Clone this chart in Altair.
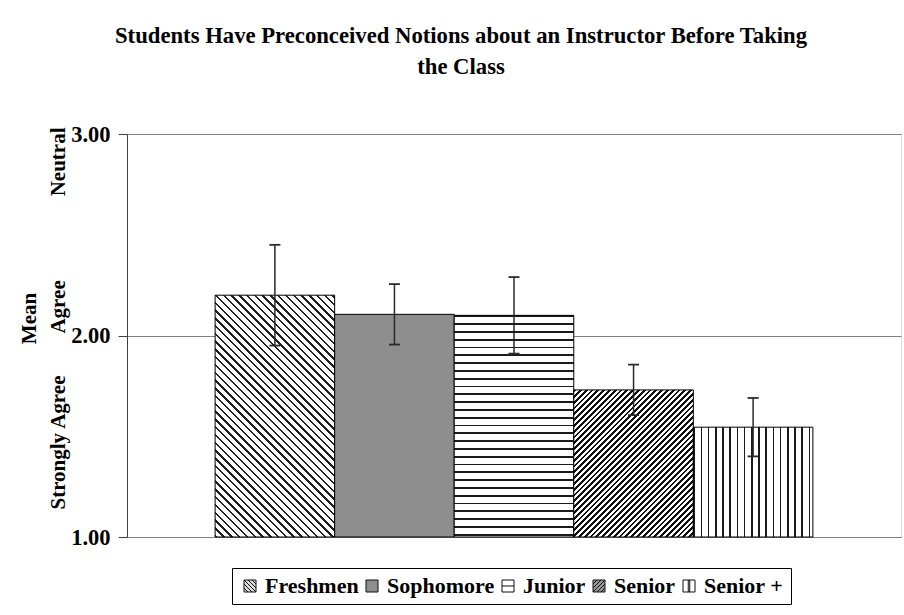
import math
import altair as alt
import pandas as pd

# ---------------- data ----------------
classes = ["Freshmen", "Sophomore", "Junior", "Senior", "Senior +"]
means = [2.20, 2.105, 2.10, 1.73, 1.545]
errors = [0.25, 0.15, 0.19, 0.125, 0.145]
y_ticks = [1, 2, 3]
title_lines = ["Students Have Preconceived Notions about an Instructor Before Taking", "the Class"]
NB = "\u00a0"
y_title = ["Mean", "Strongly Agree" + NB * 8 + "Agree" + NB * 16 + "Neutral"]

df = pd.DataFrame({"Class": classes, "Mean": means, "Err": errors})

# ---------------- layout / style ----------------
PLOT_W, PLOT_H = 774, 403
Y_MIN, Y_MAX = 1, 3
PAD_OUTER = 0.737
FONT = "Liberation Serif"
step = PLOT_W / (len(classes) + 2 * PAD_OUTER)


def bar_h(v):
    return (v - Y_MIN) / (Y_MAX - Y_MIN) * PLOT_H


def stripe_stops(n, frac, dark, light):
    stops = []
    k = 0
    while k / n < 1:
        a = round(k / n, 5)
        b = round(min((k + frac) / n, 1), 5)
        c = round(min((k + 1) / n, 1), 5)
        stops += [
            {"offset": a, "color": dark},
            {"offset": b, "color": dark},
            {"offset": b, "color": light},
            {"offset": c, "color": light},
        ]
        k += 1
    return stops


def diag_grad(w, h, period, frac, dark, light, backslash=True):
    n = (w + h) / (math.sqrt(2) * period)
    k = (w + h) / (w * w + h * h)
    if backslash:
        x1, y1 = 0, 1
        x2, y2 = w * k, 1 - h * k
    else:
        x1, y1 = 0, 0
        x2, y2 = w * k, h * k
    return {"gradient": "linear", "x1": x1, "y1": y1, "x2": round(x2, 5), "y2": round(y2, 5),
            "stops": stripe_stops(n, frac, dark, light)}


def lin_grad(length, period, frac, dark, light, vertical_lines):
    n = length / period
    if vertical_lines:
        x1, y1, x2, y2 = 0, 0, 1, 0
    else:
        x1, y1, x2, y2 = 0, 0, 0, 1
    return {"gradient": "linear", "x1": x1, "y1": y1, "x2": x2, "y2": y2,
            "stops": stripe_stops(n, frac, dark, light)}


fills = [
    diag_grad(step, bar_h(means[0]), 5.5, 0.32, "#202020", "#ffffff", backslash=True),
    "#8e8e8e",
    lin_grad(bar_h(means[2]), 7.8, 0.24, "#1a1a1a", "#ffffff", vertical_lines=False),
    diag_grad(step, bar_h(means[3]), 4.1, 0.5, "#111111", "#ffffff", backslash=False),
    lin_grad(step, 7.2, 0.22, "#1a1a1a", "#ffffff", vertical_lines=True),
]

sq = "M-1,-1H1V1H-1Z"
sym_paths = [
    sq + " M-1,-0.33L0.33,1 M-1,-1L1,1 M-0.33,-1L1,0.33 M-1,0.33L-0.33,1 M0.33,-1L1,-0.33",
    sq,
    sq + " M-1,0H1",
    sq + " M-1,1L1,-1 M-1,0.33L0.33,-1 M-0.33,1L1,-0.33 M-1,-0.33L-0.33,-1 M0.33,1L1,0.33",
    sq + " M-0.12,-1V1 M0.12,-1V1",
]
sym_fills = ["#dddddd", "#8e8e8e", "#ffffff", "#9a9a9a", "#ffffff"]
sym_strokes = ["#111111"] * len(classes)

x_enc = alt.X(
    "Class:N",
    sort=classes,
    scale=alt.Scale(domain=classes, paddingInner=0, paddingOuter=PAD_OUTER),
    axis=alt.Axis(labels=False, ticks=False, title=None, domainColor="#808080", grid=False),
)
y_scale = alt.Scale(domain=[Y_MIN, Y_MAX], nice=False, zero=False)
y_axis = alt.Axis(
    values=y_ticks,
    format=".2f",
    grid=True,
    gridColor="#808080",
    gridWidth=1,
    domainColor="#404040",
    tickColor="#404040",
    tickSize=9,
    labelPadding=8,
    labelFont=FONT,
    labelFontSize=22.5,
    labelFontWeight="bold",
    labelColor="black",
    title=y_title,
    titleFont=FONT,
    titleFontSize=21,
    titleFontWeight="bold",
    titleColor="black",
    titleAngle=-90,
    titleX=-92,
    titleY=184,
    titleAlign="center",
    titleBaseline="alphabetic",
    titleLineHeight=29,
)

legend = alt.Legend(
    title=None,
    orient="none",
    legendX=105,
    legendY=434,
    direction="horizontal",
    symbolSize=144,
    labelFont=FONT,
    labelFontSize=22,
    labelFontWeight="bold",
    labelColor="black",
    labelOffset=4,
    columnPadding=2,
    padding=7,
    strokeColor="black",
    fillColor="white",
    symbolStrokeWidth=1,
)

base = alt.Chart(df)

legend_layer = base.mark_point(filled=True, opacity=1, strokeWidth=1, clip=True).encode(
    x=x_enc,
    y=alt.Y(datum=0, scale=y_scale, axis=y_axis),
    fill=alt.Fill("Class:N", scale=alt.Scale(domain=classes, range=sym_fills), legend=legend),
    stroke=alt.Stroke("Class:N", scale=alt.Scale(domain=classes, range=sym_strokes), legend=legend),
    shape=alt.Shape("Class:N", scale=alt.Scale(domain=classes, range=sym_paths), legend=legend),
)

bar_layers = []
for c, f in zip(classes, fills):
    bar_layers.append(
        base.transform_filter(alt.datum.Class == c)
        .mark_bar(fill=f, stroke="black", strokeWidth=1)
        .encode(
            x=x_enc,
            y=alt.Y("Mean:Q", scale=y_scale, axis=y_axis),
            y2=alt.datum(Y_MIN),
        )
    )

err_base = base.transform_calculate(Low="datum.Mean - datum.Err", High="datum.Mean + datum.Err")
rules = err_base.mark_rule(color="#2a2a2a", strokeWidth=1.5).encode(
    x=x_enc,
    y=alt.Y("Low:Q", scale=y_scale, axis=y_axis),
    y2="High:Q",
)
caps_low = err_base.mark_tick(color="#2a2a2a", thickness=1.8, size=11, opacity=1).encode(
    x=x_enc, y=alt.Y("Low:Q", scale=y_scale, axis=y_axis)
)
caps_high = err_base.mark_tick(color="#2a2a2a", thickness=1.8, size=11, opacity=1).encode(
    x=x_enc, y=alt.Y("High:Q", scale=y_scale, axis=y_axis)
)

chart = (
    alt.layer(legend_layer, *bar_layers, rules, caps_low, caps_high)
    .properties(
        width=PLOT_W,
        height=PLOT_H,
        autosize=alt.AutoSizeParams(type="none"),
        padding={"left": 127, "top": 134, "right": 3, "bottom": 78},
        title=alt.TitleParams(
            text=title_lines,
            font=FONT,
            fontSize=22.7,
            fontWeight="bold",
            color="black",
            anchor="middle",
            dx=-53,
            offset=44,
            lineHeight=31,
            frame="group",
        ),
    )
    .configure_view(stroke="#808080", strokeWidth=1)
    .configure(background="white")
)

chart.save("out.html", embed_options={"renderer": "svg", "actions": False})
